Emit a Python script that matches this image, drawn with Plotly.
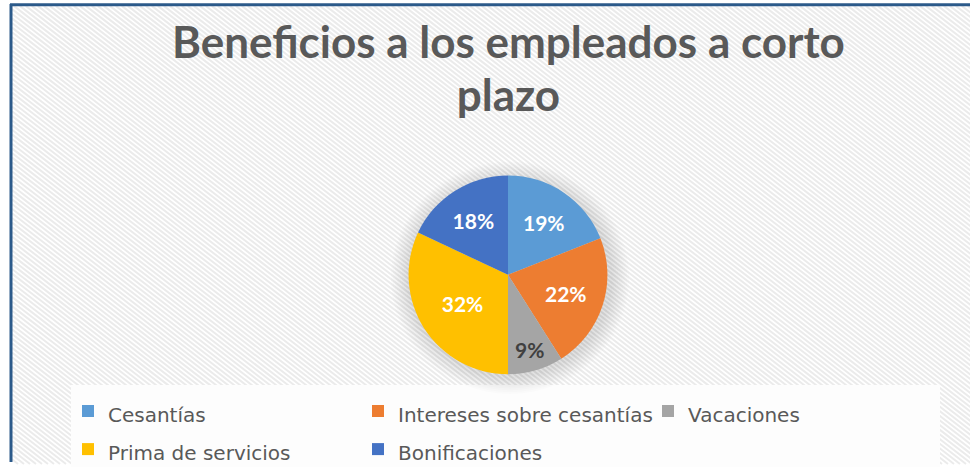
import plotly.graph_objects as go

# Short-term employee benefits breakdown
categories = ["Cesantías", "Intereses sobre cesantías", "Vacaciones",
              "Prima de servicios", "Bonificaciones"]
shares = [19, 22, 9, 32, 18]
colors = ["#5B9BD5", "#ED7D31", "#A5A5A5", "#FFC000", "#4472C4"]
label_colors = ["white", "white", "#404040", "white", "white"]
title_lines = ["Beneficios a los empleados a corto", "plazo"]

W, H = 970, 474


def px(x):
    return x / W


def py(y):
    return 1 - y / H


# Diagonal hatching inside the chart frame
x0, y0, x1, y1 = 12, 6, W + 2, H + 2
dx, dy = 1.26, 1.0
segs = []
c = x0 - (y1 - y0) * dx / dy
while c < x1:
    t_start = max(0.0, (x0 - c) / dx)
    t_end = min((y1 - y0) / dy, (x1 - c) / dx)
    if t_end > t_start:
        ax, ay = c + dx * t_start, y0 + dy * t_start
        bx, by = c + dx * t_end, y0 + dy * t_end
        segs.append(f"M{px(ax):.5f},{py(ay):.5f}L{px(bx):.5f},{py(by):.5f}")
    c += 6
hatch_path = "".join(segs)

shapes = [
    dict(type="path", path=hatch_path, xref="paper", yref="paper",
         line=dict(color="#ebebeb", width=2), layer="below"),
    # legend panel
    dict(type="rect", xref="paper", yref="paper",
         x0=px(71), x1=px(940), y0=py(H + 5), y1=py(395),
         fillcolor="#fdfdfd", line=dict(width=0), layer="below"),
]

# soft shadow under the pie
cx, cy, r = 508, 282, 102
for i in range(10):
    rr = r + 1 + i * 1.8
    shapes.append(dict(type="circle", xref="paper", yref="paper",
                       x0=px(cx + 2 - rr), x1=px(cx + 2 + rr),
                       y0=py(cy + 3 + rr), y1=py(cy + 3 - rr),
                       fillcolor="rgba(0,0,0,0.011)", line=dict(width=0),
                       layer="below"))

# frame: top and left edges
frame = dict(color="#2C5A8A", width=3)
shapes += [
    dict(type="line", xref="paper", yref="paper",
         x0=px(10), x1=1, y0=py(5), y1=py(5), line=frame, layer="above"),
    dict(type="line", xref="paper", yref="paper",
         x0=px(11), x1=px(11), y0=py(4), y1=0, line=frame, layer="above"),
]

legend_labels = [f'<span style="font-size:20px">{c}</span>' for c in categories]

fig = go.Figure(go.Pie(
    labels=legend_labels,
    values=shares,
    sort=False,
    direction="clockwise",
    rotation=0,
    marker=dict(colors=colors, line=dict(width=0)),
    textinfo="percent",
    texttemplate="%{percent:.0%}",
    textposition="inside",
    insidetextorientation="horizontal",
    textfont=dict(family="Lato", size=21, color=label_colors, weight="bold"),
    domain=dict(x=[px(cx - r), px(cx + r)], y=[py(cy + r), py(cy - r)]),
    hoverinfo="skip",
))

# two-line title: base size sets the line pitch, spans set the glyph size
title_text = "<br>".join(
    f'<span style="font-size:44px">{t}</span>' for t in title_lines)
annotations = [
    dict(text=title_text, x=px(508), y=py(69), xref="paper", yref="paper",
         showarrow=False, xanchor="center", yanchor="middle", align="center",
         font=dict(family="Lato", size=41, color="#595959", weight="bold")),
]

fig.update_layout(
    width=W, height=H,
    margin=dict(l=0, r=0, t=0, b=0),
    paper_bgcolor="white",
    plot_bgcolor="white",
    shapes=shapes,
    annotations=annotations,
    showlegend=True,
    legend=dict(
        orientation="h",
        x=px(68), xanchor="left",
        y=py(397), yanchor="top",
        bgcolor="rgba(0,0,0,0)",
        font=dict(family="DejaVu Sans", size=27, color="#595959"),
        entrywidth=245, entrywidthmode="pixels",
        itemclick=False, itemdoubleclick=False,
    ),
)

fig.write_html("out.html")
